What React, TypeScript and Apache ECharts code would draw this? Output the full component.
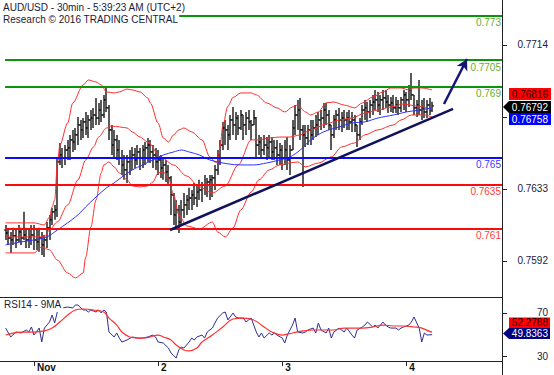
import React, { useEffect, useRef } from "react";
import * as echarts from "echarts";

// ---- OHLC (30-min bars, index 0 = Oct 31 ~18:30) ----
const opens = [
  0.76094,0.76077,0.76049,0.76038,0.76061,0.76038,0.76083,0.76049,0.76066,0.76038,
  0.76055,0.76066,0.76038,0.76027,0.76049,0.76010,0.76038,0.76106,0.76151,0.76196,
  0.76207,0.76477,0.76516,0.76499,0.76544,0.76556,0.76601,0.76589,0.76629,0.76685,
  0.76657,0.76702,0.76668,0.76713,0.76724,0.76741,0.76724,0.76769,0.76741,0.76826,
  0.76781,0.76657,0.76572,0.76601,0.76544,0.76499,0.76460,0.76432,0.76477,0.76499,
  0.76516,0.76488,0.76533,0.76499,0.76544,0.76556,0.76572,0.76533,0.76516,0.76477,
  0.76488,0.76443,0.76460,0.76421,0.76387,0.76291,0.76179,0.76207,0.76139,0.76207,
  0.76235,0.76263,0.76274,0.76291,0.76274,0.76308,0.76319,0.76347,0.76347,0.76364,
  0.76376,0.76387,0.76432,0.76516,0.76572,0.76668,0.76657,0.76629,0.76713,0.76685,
  0.76724,0.76668,0.76741,0.76685,0.76724,0.76702,0.76685,0.76724,0.76572,0.76589,
  0.76544,0.76572,0.76556,0.76589,0.76533,0.76556,0.76516,0.76544,0.76499,0.76544,
  0.76488,0.76544,0.76668,0.76741,0.76769,0.76657,0.76629,0.76612,0.76657,0.76629,
  0.76668,0.76685,0.76713,0.76724,0.76769,0.76741,0.76685,0.76629,0.76713,0.76741,
  0.76713,0.76724,0.76713,0.76724,0.76702,0.76713,0.76685,0.76629,0.76702,0.76769,
  0.76781,0.76758,0.76797,0.76814,0.76826,0.76797,0.76826,0.76837,0.76814,0.76797,
  0.76809,0.76781,0.76797,0.76781,0.76826,0.76854,0.76826,0.76882,0.76854,0.76781,
  0.76797,0.76769,0.76781,0.76758,0.76797,0.76769
];
const highs = [
  0.76122,0.76094,0.76083,0.76106,0.76094,0.76122,0.76106,0.76196,0.76106,0.76094,
  0.76122,0.76122,0.76094,0.76106,0.76083,0.76066,0.76139,0.76179,0.76218,0.76235,
  0.76505,0.76584,0.76556,0.76572,0.76601,0.76629,0.76657,0.76668,0.76730,0.76713,
  0.76724,0.76758,0.76741,0.76769,0.76781,0.76837,0.76809,0.76826,0.76854,0.76893,
  0.76797,0.76685,0.76657,0.76629,0.76601,0.76544,0.76516,0.76516,0.76544,0.76561,
  0.76556,0.76572,0.76556,0.76572,0.76589,0.76612,0.76601,0.76572,0.76556,0.76544,
  0.76516,0.76499,0.76488,0.76460,0.76398,0.76302,0.76263,0.76235,0.76263,0.76302,
  0.76291,0.76331,0.76319,0.76359,0.76347,0.76376,0.76364,0.76404,0.76387,0.76404,
  0.76404,0.76460,0.76544,0.76601,0.76702,0.76713,0.76685,0.76741,0.76786,0.76758,
  0.76741,0.76769,0.76741,0.76758,0.76769,0.76713,0.76769,0.76730,0.76629,0.76617,
  0.76629,0.76617,0.76629,0.76617,0.76601,0.76601,0.76584,0.76572,0.76601,0.76617,
  0.76572,0.76713,0.76797,0.76826,0.76837,0.76685,0.76685,0.76685,0.76713,0.76713,
  0.76741,0.76758,0.76769,0.76809,0.76809,0.76769,0.76685,0.76741,0.76769,0.76781,
  0.76758,0.76769,0.76758,0.76769,0.76758,0.76741,0.76685,0.76724,0.76797,0.76826,
  0.76814,0.76826,0.76854,0.76882,0.76871,0.76854,0.76882,0.76882,0.76854,0.76842,
  0.76854,0.76842,0.76826,0.76842,0.76882,0.76871,0.76910,0.76977,0.76854,0.76826,
  0.76938,0.76826,0.76837,0.76826,0.76837,0.76816
];
const lows = [
  0.76038,0.76010,0.75965,0.76010,0.75993,0.76027,0.76010,0.76038,0.75993,0.75993,
  0.76010,0.75982,0.75982,0.75971,0.75954,0.75942,0.75993,0.76038,0.76122,0.76151,
  0.76167,0.76460,0.76443,0.76460,0.76488,0.76488,0.76533,0.76544,0.76572,0.76601,
  0.76612,0.76629,0.76612,0.76657,0.76668,0.76685,0.76685,0.76702,0.76724,0.76758,
  0.76601,0.76516,0.76505,0.76488,0.76460,0.76404,0.76376,0.76359,0.76404,0.76432,
  0.76443,0.76460,0.76432,0.76443,0.76460,0.76477,0.76471,0.76443,0.76432,0.76404,
  0.76387,0.76376,0.76364,0.76347,0.76179,0.76122,0.76106,0.76077,0.76122,0.76162,
  0.76179,0.76207,0.76207,0.76235,0.76224,0.76263,0.76252,0.76291,0.76280,0.76263,
  0.76280,0.76319,0.76404,0.76460,0.76544,0.76572,0.76544,0.76601,0.76629,0.76601,
  0.76629,0.76657,0.76601,0.76629,0.76657,0.76601,0.76685,0.76505,0.76516,0.76499,
  0.76516,0.76488,0.76505,0.76488,0.76488,0.76460,0.76460,0.76432,0.76460,0.76432,
  0.76404,0.76544,0.76629,0.76657,0.76601,0.76336,0.76561,0.76572,0.76572,0.76601,
  0.76617,0.76629,0.76657,0.76668,0.76685,0.76657,0.76544,0.76612,0.76657,0.76657,
  0.76646,0.76668,0.76657,0.76657,0.76646,0.76646,0.76561,0.76601,0.76685,0.76713,
  0.76702,0.76724,0.76741,0.76769,0.76758,0.76741,0.76769,0.76781,0.76752,0.76758,
  0.76752,0.76752,0.76741,0.76758,0.76769,0.76758,0.76786,0.76826,0.76741,0.76730,
  0.76741,0.76713,0.76724,0.76724,0.76741,0.76758
];
const closes = [
  0.76077,0.76049,0.76038,0.76061,0.76038,0.76083,0.76049,0.76066,0.76038,0.76055,
  0.76066,0.76038,0.76027,0.76049,0.76010,0.76038,0.76106,0.76151,0.76196,0.76207,
  0.76477,0.76516,0.76499,0.76544,0.76556,0.76601,0.76589,0.76629,0.76685,0.76657,
  0.76702,0.76668,0.76713,0.76724,0.76741,0.76724,0.76769,0.76741,0.76826,0.76781,
  0.76657,0.76572,0.76601,0.76544,0.76499,0.76460,0.76432,0.76477,0.76499,0.76516,
  0.76488,0.76533,0.76499,0.76544,0.76556,0.76572,0.76533,0.76516,0.76477,0.76488,
  0.76443,0.76460,0.76421,0.76387,0.76291,0.76179,0.76207,0.76139,0.76207,0.76235,
  0.76263,0.76274,0.76291,0.76274,0.76308,0.76319,0.76347,0.76347,0.76364,0.76376,
  0.76387,0.76432,0.76516,0.76572,0.76668,0.76657,0.76629,0.76713,0.76685,0.76724,
  0.76668,0.76741,0.76685,0.76724,0.76702,0.76685,0.76724,0.76572,0.76589,0.76544,
  0.76572,0.76556,0.76589,0.76533,0.76556,0.76516,0.76544,0.76499,0.76544,0.76488,
  0.76544,0.76668,0.76741,0.76769,0.76657,0.76629,0.76612,0.76657,0.76629,0.76668,
  0.76685,0.76713,0.76724,0.76769,0.76741,0.76685,0.76629,0.76713,0.76741,0.76713,
  0.76724,0.76713,0.76724,0.76702,0.76713,0.76685,0.76629,0.76702,0.76769,0.76781,
  0.76758,0.76797,0.76814,0.76826,0.76797,0.76826,0.76837,0.76814,0.76797,0.76809,
  0.76781,0.76797,0.76781,0.76826,0.76854,0.76826,0.76882,0.76854,0.76781,0.76797,
  0.76769,0.76781,0.76758,0.76797,0.76769,0.76792
];

// ---- Bollinger bands & moving average: [barIndex, price] ----
const bbUpper = [
  [0,0.76134],[6,0.76134],[11,0.76134],[15,0.76122],[17,0.76167],[18,0.76224],[19,0.76263],
  [20,0.76460],[21,0.76572],[24,0.76696],[26,0.76809],[30,0.76910],[32,0.76938],[35,0.76927],
  [37,0.76910],[39,0.76871],[42,0.76865],[44,0.76871],[47,0.76887],[49,0.76882],[52,0.76871],
  [55,0.76837],[56,0.76809],[59,0.76696],[61,0.76612],[63,0.76589],[65,0.76629],[67,0.76657],
  [69,0.76668],[72,0.76646],[76,0.76601],[79,0.76505],[81,0.76477],[82,0.76471],[83,0.76560],
  [84,0.76680],[86,0.76790],[88,0.76840],[91,0.76865],[95,0.76865],[97,0.76854],[101,0.76809],
  [105,0.76781],[108,0.76758],[111,0.76786],[113,0.76797],[116,0.76758],[118,0.76741],
  [121,0.76758],[124,0.76809],[127,0.76814],[131,0.76797],[135,0.76781],[138,0.76809],
  [142,0.76842],[146,0.76871],[149,0.76893],[153,0.76893],[156,0.76882],[158,0.76893],
  [161,0.76893],[165,0.76882]
];
const bbMiddle = [
  [0,0.76055],[6,0.76055],[11,0.76055],[15,0.76055],[17,0.76094],[20,0.76139],[24,0.76235],
  [28,0.76376],[31,0.76488],[34,0.76561],[36,0.76617],[39,0.76668],[41,0.76679],[44,0.76674],
  [47,0.76668],[49,0.76646],[52,0.76617],[55,0.76589],[60,0.76505],[65,0.76460],[70,0.76398],
  [75,0.76336],[80,0.76302],[85,0.76342],[90,0.76460],[95,0.76601],[98,0.76601],[102,0.76612],
  [106,0.76617],[110,0.76617],[114,0.76629],[118,0.76657],[124,0.76690],[129,0.76713],
  [134,0.76724],[139,0.76752],[144,0.76769],[149,0.76786],[154,0.76803],[159,0.76792],
  [165,0.76769]
];
const bbLower = [
  [0,0.75965],[6,0.75965],[11,0.75965],[14,0.75999],[17,0.75982],[20,0.75925],[24,0.75852],
  [27,0.75824],[30,0.75852],[31,0.75942],[33,0.76111],[35,0.76263],[37,0.76415],[38,0.76460],
  [40,0.76477],[42,0.76449],[44,0.76415],[47,0.76376],[49,0.76342],[52,0.76336],[55,0.76342],
  [57,0.76364],[59,0.76415],[61,0.76421],[63,0.76387],[65,0.76291],[67,0.76179],[70,0.76117],
  [75,0.76100],[80,0.76139],[82,0.76083],[85,0.76055],[88,0.76106],[91,0.76207],[95,0.76308],
  [98,0.76376],[102,0.76432],[106,0.76460],[110,0.76471],[113,0.76477],[116,0.76449],
  [121,0.76471],[126,0.76505],[130,0.76561],[135,0.76584],[139,0.76629],[144,0.76657],
  [150,0.76685],[153,0.76713],[157,0.76741],[162,0.76741],[165,0.76730]
];
const movingAvg = [
  [0,0.76010],[6,0.76027],[11,0.76038],[16,0.76055],[20,0.76094],[24,0.76134],[28,0.76179],
  [31,0.76224],[35,0.76280],[39,0.76331],[42,0.76359],[45,0.76392],[49,0.76432],[53,0.76460],
  [57,0.76488],[61,0.76516],[65,0.76533],[68,0.76544],[71,0.76533],[75,0.76516],[79,0.76488],
  [86,0.76466],[91,0.76460],[96,0.76460],[101,0.76471],[106,0.76488],[110,0.76505],
  [114,0.76544],[118,0.76601],[123,0.76646],[129,0.76674],[134,0.76696],[139,0.76702],
  [144,0.76724],[150,0.76741],[155,0.76758],[160,0.76769],[165,0.76781]
];

// ---- RSI14 and its 9-period MA: [barIndex, value] ----
const rsi14 = [
  [0,56.0],[2,47.7],[4,52.3],[6,51.4],[8,54.2],[9,52.3],[10,57.0],[11,49.5],[13,56.0],[14,43.0],
  [15,56.0],[16,58.8],[17,61.6],[18,68.1],[19,60.7],[20,70.9],[21,75.6],[22,74.7],[24,75.6],
  [26,74.7],[27,77.4],[28,77.4],[30,72.8],[31,72.8],[32,70.9],[33,72.8],[35,70.9],[36,72.8],
  [37,70.0],[38,72.8],[39,70.9],[40,52.3],[42,47.7],[43,51.4],[44,46.7],[45,43.0],[47,44.9],
  [49,47.7],[51,46.7],[53,46.7],[55,47.7],[57,49.5],[58,47.7],[59,43.0],[61,42.1],[63,37.4],
  [64,32.8],[66,28.1],[67,35.6],[68,38.4],[69,37.4],[71,43.0],[72,46.7],[73,44.9],[74,47.7],
  [76,49.5],[77,46.7],[78,52.3],[80,56.0],[81,60.7],[82,65.3],[84,70.0],[85,70.9],[86,63.5],
  [88,70.0],[89,66.3],[90,65.3],[92,65.3],[93,61.6],[94,63.5],[95,65.3],[97,52.3],[98,47.7],
  [99,51.4],[100,46.7],[102,51.4],[103,49.5],[104,51.4],[105,49.5],[107,46.7],[108,42.1],
  [109,49.5],[111,58.8],[112,65.3],[113,52.3],[115,51.4],[116,52.3],[117,54.2],[119,56.0],
  [120,51.4],[121,60.7],[122,54.2],[124,51.4],[125,56.0],[126,46.7],[127,52.3],[129,56.0],
  [130,54.2],[131,52.3],[132,56.0],[134,49.5],[135,46.7],[136,54.2],[138,57.0],[139,58.8],
  [140,61.6],[142,57.0],[143,58.8],[144,56.0],[146,61.6],[147,58.8],[148,57.0],[149,56.0],
  [151,56.0],[152,54.2],[153,56.0],[154,57.0],[156,58.8],[157,61.6],[158,66.3],[160,56.0],
  [161,43.0],[162,51.4],[163,49.5],[165,49.84]
];
const rsiMa9 = [
  [0,49.5],[6,52.3],[11,52.3],[15,53.3],[18,56.0],[21,61.6],[24,68.1],[27,72.8],[30,73.7],
  [34,72.8],[38,70.9],[40,65.3],[43,58.8],[45,52.3],[48,47.7],[51,46.7],[53,46.7],[56,47.7],
  [59,49.5],[61,47.7],[64,44.9],[66,40.2],[69,35.6],[71,34.7],[74,37.4],[76,43.0],[80,49.5],
  [84,57.0],[88,64.4],[92,65.3],[96,63.5],[100,57.0],[103,52.3],[107,49.5],[111,51.4],
  [115,53.3],[119,54.2],[123,54.2],[127,54.2],[131,56.0],[135,56.0],[138,56.0],[142,57.0],
  [146,58.8],[150,57.9],[154,57.9],[158,57.0],[161,56.0],[164,52.9],[165,52.28]
];

// ---- Levels, annotations, ticks ----
const levelValues = [0.773, 0.7705, 0.769, 0.765, 0.7635, 0.761];
const levelLabels = ["0.773", "0.7705", "0.769", "0.765", "0.7635", "0.761"];
const levelKinds = ["resistance", "resistance", "resistance", "pivot", "support", "support"];
const trendLine = [[63.6, 0.76094], [173.1, 0.76775]];
const arrowLine = [[169.6, 0.76803], [178.5, 0.77056]];
const dayTickIndex = [11, 59, 107, 155];
const dayLabels = ["Nov", "2", "3", "4"];
const priceTickValues = [0.7592, 0.76325, 0.7673, 0.77135];
const priceTickLabels = ["0.7592", "0.7633", "0.7673", "0.7714"];
const priceLabelValues = [0.7592, 0.76325, 0.77135];
const rsiTickValues = [30, 70];
const priceTags = [0.76816, 0.76792, 0.76758];
const rsiTags = [52.2788, 49.8363];

const FONT = '"Liberation Sans", Arial, sans-serif';
const TXT = "#1b1b3a";

const kindStyle: Record<string, { line: string; text: string }> = {
  resistance: { line: "#0a960a", text: "#5fae2e" },
  pivot: { line: "#0a0aff", text: "#3b3bff" },
  support: { line: "#ff0a0a", text: "#ff3b3b" },
};

export default function App() {
  const ref = useRef<HTMLDivElement>(null);
  useEffect(() => {
    if (!ref.current) return;
    const chart = echarts.init(ref.current, null, { renderer: "svg" });
    const bars = closes.map((c, i) => [i, opens[i], highs[i], lows[i], c]);
    const xMin = -2.16;
    const xMax = 192.04;

    const option: any = {
      animation: false,
      backgroundColor: "#ffffff",
      textStyle: { fontFamily: FONT },
      grid: [
        { left: 0, right: 52, top: 0, height: 297, outerBoundsMode: "none", containLabel: false },
        { left: 0, right: 52, top: 297, height: 64, outerBoundsMode: "none", containLabel: false },
      ],
      xAxis: [
        {
          type: "value", gridIndex: 0, min: xMin, max: xMax,
          axisLine: { show: true, onZero: false, lineStyle: { color: "#222", width: 1 } },
          axisTick: { show: false }, axisLabel: { show: false }, splitLine: { show: false },
        },
        {
          type: "value", gridIndex: 1, min: xMin, max: xMax,
          axisLine: { show: true, onZero: false, lineStyle: { color: "#222", width: 1 } },
          axisTick: { show: true, customValues: dayTickIndex, length: 5, lineStyle: { color: "#222" } },
          axisLabel: {
            show: true, customValues: dayTickIndex, margin: 1, align: "left",
            padding: [0, 0, 0, 3], color: "#111", fontSize: 10, fontWeight: "bold", fontFamily: FONT,
            formatter: (v: number) => dayLabels[dayTickIndex.indexOf(Math.round(v))] ?? "",
          },
          splitLine: { show: false },
        },
      ],
      yAxis: [
        {
          type: "value", gridIndex: 0, position: "right", min: 0.75717, max: 0.77388, scale: true,
          axisLine: { show: false, onZero: false },
          axisTick: { show: true, customValues: priceTickValues, length: 5, lineStyle: { color: "#222" } },
          axisLabel: {
            show: true, customValues: priceLabelValues, margin: 46, align: "right",
            color: TXT, fontSize: 10, fontFamily: FONT,
            formatter: (v: number) => {
              let best = 0;
              priceTickValues.forEach((t, k) => { if (Math.abs(t - v) < Math.abs(priceTickValues[best] - v)) best = k; });
              return priceTickLabels[best];
            },
          },
          splitLine: { show: false },
        },
        {
          type: "value", gridIndex: 1, position: "right", min: 25.35, max: 84.88,
          axisLine: { show: false, onZero: false },
          axisTick: { show: true, customValues: rsiTickValues, length: 5, lineStyle: { color: "#222" } },
          axisLabel: {
            show: true, customValues: rsiTickValues, margin: 46, align: "right", lineHeight: 8,
            color: TXT, fontSize: 10, fontFamily: FONT,
          },
          splitLine: { show: false },
        },
      ],
      series: [
        {
          type: "custom", name: "AUD/USD", xAxisIndex: 0, yAxisIndex: 0, silent: true, z: 2,
          dimensions: ["i", "open", "high", "low", "close"],
          encode: { x: 0, y: [1, 2, 3, 4] },
          data: bars,
          renderItem: (params: any, api: any) => {
            const i = api.value(0);
            const pO = api.coord([i, api.value(1)]);
            const pH = api.coord([i, api.value(2)]);
            const pL = api.coord([i, api.value(3)]);
            const pC = api.coord([i, api.value(4)]);
            const x = Math.round(pH[0]);
            return {
              type: "group",
              children: [
                { type: "line", shape: { x1: x, y1: pH[1], x2: x, y2: pL[1] }, style: { stroke: "#5a5a5a", lineWidth: 2 } },
                { type: "line", shape: { x1: x - 2, y1: pO[1], x2: x, y2: pO[1] }, style: { stroke: "#000", lineWidth: 1 } },
                { type: "line", shape: { x1: x, y1: pC[1], x2: x + 2, y2: pC[1] }, style: { stroke: "#000", lineWidth: 1 } },
              ],
            };
          },
        },
        ...[bbUpper, bbMiddle, bbLower].map((d) => ({
          type: "line", xAxisIndex: 0, yAxisIndex: 0, data: d, showSymbol: false, silent: true, z: 3,
          smooth: 0.3, smoothMonotone: "x",
          lineStyle: { color: "#ff2d2d", width: 1 },
        })),
        {
          type: "line", xAxisIndex: 0, yAxisIndex: 0, data: movingAvg, showSymbol: false, silent: true, z: 3,
          smooth: 0.3, lineStyle: { color: "#3030ff", width: 1 },
        },
        {
          type: "line", xAxisIndex: 0, yAxisIndex: 0, data: [], silent: true, z: 4,
          markLine: {
            silent: true, symbol: "none", animation: false,
            data: levelValues.map((v, k) => [
              {
                coord: [-0.2, v],
                lineStyle: { color: kindStyle[levelKinds[k]].line, width: 2, type: "solid" },
                label: {
                  show: true, position: "insideEndBottom", distance: [1, 2],
                  formatter: levelLabels[k], color: kindStyle[levelKinds[k]].text,
                  fontSize: 10, fontFamily: FONT,
                },
              },
              { coord: [xMax, v] },
            ]),
          },
        },
        {
          type: "line", xAxisIndex: 0, yAxisIndex: 0, data: trendLine, showSymbol: false, silent: true, z: 5,
          lineStyle: { color: "#12125a", width: 2.5 },
          markLine: {
            silent: true, symbol: ["none", "arrow"], symbolSize: [9, 11], animation: false,
            lineStyle: { color: "#15157a", width: 2.5, type: "solid" },
            label: { show: false },
            data: [[{ coord: arrowLine[0] }, { coord: arrowLine[1] }]],
          },
        },
        {
          type: "line", xAxisIndex: 1, yAxisIndex: 1, data: rsi14, showSymbol: false, silent: true, z: 3,
          lineStyle: { color: "#2e2e96", width: 1 },
        },
        {
          type: "line", xAxisIndex: 1, yAxisIndex: 1, data: rsiMa9, showSymbol: false, silent: true, z: 4,
          smooth: 0.4, lineStyle: { color: "#ff3030", width: 1.2 },
        },
      ],
      graphic: [
        { type: "line", z: 50, shape: { x1: 502.5, y1: 0, x2: 502.5, y2: 375 }, style: { stroke: "#222", lineWidth: 1 } },
        {
          type: "text", z: 60, x: 3, y: 2,
          style: { text: "AUD/USD - 30min - 5:39:23 AM (UTC+2)", font: `10px ${FONT}`, fill: TXT, backgroundColor: "#fff", padding: [0, 1, 0, 0] },
        },
        {
          type: "text", z: 60, x: 3, y: 13,
          style: { text: "Research \u00a9 2016 TRADING CENTRAL", font: `10px ${FONT}`, fill: TXT, backgroundColor: "#fff", padding: [1, 1, 1, 0] },
        },
        {
          type: "text", z: 60, x: 3, y: 298,
          style: { text: "RSI14 - 9MA", font: `10px ${FONT}`, fill: TXT, backgroundColor: "#fff", padding: [1, 2, 3, 1] },
        },
        // price tags
        { type: "rect", z: 70, shape: { x: 509, y: 88, width: 42, height: 12 }, style: { fill: "#ff0000" } },
        { type: "text", z: 71, x: 548, y: 94, style: { text: priceTags[0].toFixed(5), font: `10px ${FONT}`, fill: "#2a0000", align: "right", verticalAlign: "middle" } },
        { type: "polygon", z: 70, shape: { points: [[503, 107], [509, 101], [551, 101], [551, 113], [509, 113]] }, style: { fill: "#000000" } },
        { type: "text", z: 71, x: 548, y: 107, style: { text: priceTags[1].toFixed(5), font: `10px ${FONT}`, fill: "#ffffff", align: "right", verticalAlign: "middle" } },
        { type: "rect", z: 70, shape: { x: 509, y: 113, width: 42, height: 12 }, style: { fill: "#0000ff" } },
        { type: "text", z: 71, x: 548, y: 119, style: { text: priceTags[2].toFixed(5), font: `10px ${FONT}`, fill: "#ffffff", align: "right", verticalAlign: "middle" } },
        // RSI tags
        { type: "rect", z: 70, shape: { x: 509, y: 317.5, width: 41, height: 10.5 }, style: { fill: "#ff0000" } },
        { type: "text", z: 71, x: 548, y: 322.5, style: { text: rsiTags[0].toFixed(4), font: `10px ${FONT}`, fill: "#2a0000", align: "right", verticalAlign: "middle", lineHeight: 10 } },
        { type: "polygon", z: 70, shape: { points: [[503, 333.5], [509, 328], [550, 328], [550, 339], [509, 339]] }, style: { fill: "#000080" } },
        { type: "text", z: 71, x: 548, y: 333.5, style: { text: rsiTags[1].toFixed(4), font: `10px ${FONT}`, fill: "#ffffff", align: "right", verticalAlign: "middle", lineHeight: 10 } },
      ],
    };
    chart.setOption(option);
    return () => chart.dispose();
  }, []);
  return <div ref={ref} style={{ width: 554, height: 375, position: "absolute", left: 0, top: 0 }} />;
}
